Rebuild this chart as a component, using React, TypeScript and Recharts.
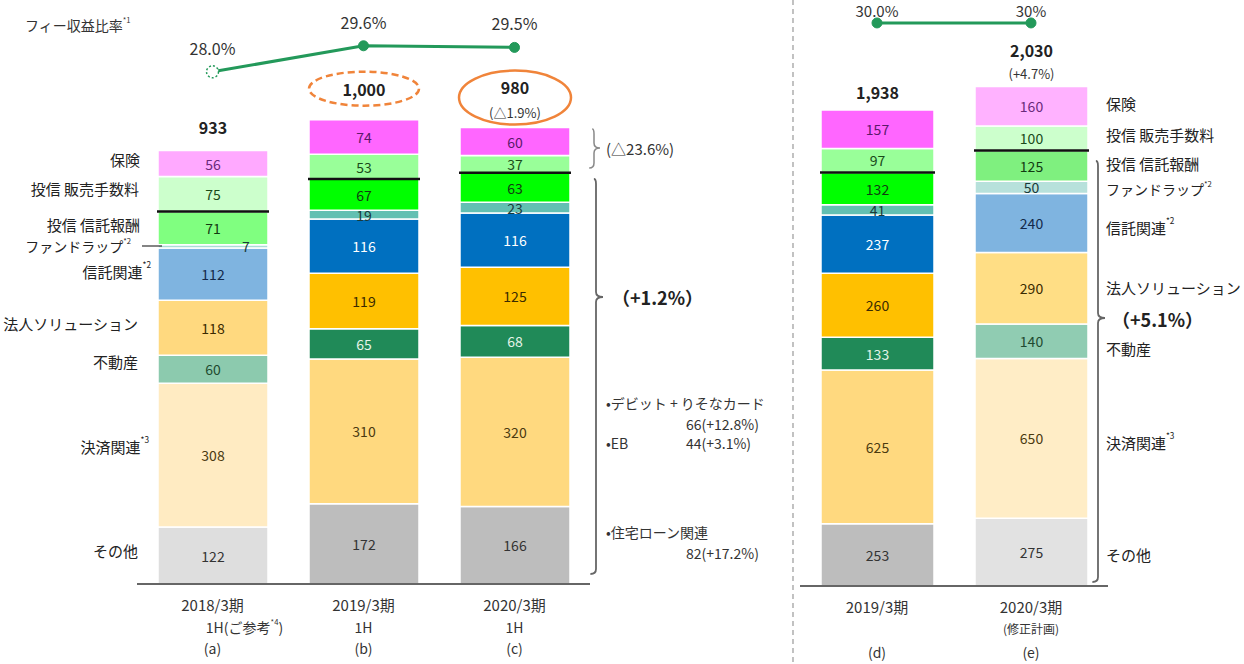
import React from 'react';
import { ComposedChart, Bar, Line, XAxis, YAxis, Cell, LabelList } from 'recharts';

// ---------- DATA ----------
const leftCategories = ['a', 'b', 'c'];
const rightCategories = ['d', 'e'];

// series (stack order bottom -> top)
const seriesKeys = ['sonota', 'kessai', 'fudosan', 'hojin', 'shintaku', 'fw', 'hoshu', 'hanbai', 'hoken'];

const sonotaL = [122, 172, 166];
const kessaiL = [308, 310, 320];
const fudosanL = [60, 65, 68];
const hojinL = [118, 119, 125];
const shintakuL = [112, 116, 116];
const fwL = [7, 19, 23];
const hoshuL = [71, 67, 63];
const hanbaiL = [75, 53, 37];
const hokenL = [56, 74, 60];
const ratioL = [28.0, 29.6, 29.5];
const ratioLabelL = ['28.0%', '29.6%', '29.5%'];
const ratioIsReferenceL = [true, false, false];
const totalsL = ['933', '1,000', '980'];
const totalSubL = ['', '', '(△1.9%)'];

const sonotaR = [253, 275];
const kessaiR = [625, 650];
const fudosanR = [133, 140];
const hojinR = [260, 290];
const shintakuR = [237, 240];
const fwR = [41, 50];
const hoshuR = [132, 125];
const hanbaiR = [97, 100];
const hokenR = [157, 160];
const ratioR = [30.0, 30];
const ratioLabelR = ['30.0%', '30%'];
const ratioIsReferenceR = [false, false];
const totalsR = ['1,938', '2,030'];
const totalSubR = ['', '(+4.7%)'];

const tickLabelsL = [
  ['2018/3期', '1H(ご参考*4)', '(a)'],
  ['2019/3期', '1H', '(b)'],
  ['2020/3期', '1H', '(c)'],
];
const tickLabelsR = [
  ['2019/3期', '(修正計画)', '(d)'],
  ['2020/3期', '(修正計画)', '(e)'],
];
const showTickLine2R = [false, true];

const sideLabelsL = ['保険', '投信 販売手数料', '投信 信託報酬', 'ファンドラップ*2', '信託関連*2', '法人ソリューション', '不動産', '決済関連*3', 'その他'];
const sideLabelsR = ['保険', '投信 販売手数料', '投信 信託報酬', 'ファンドラップ*2', '信託関連*2', '法人ソリューション', '不動産', '決済関連*3', 'その他'];

// ---------- STYLES ----------
const FONT = "'Noto Sans CJK JP', 'Noto Sans', sans-serif";
const GREEN = '#23995A';

type Pal = Record<string, string>;
const darkPal: Pal = {
  sonota: '#BDBDBD', kessai: '#FFD97F', fudosan: '#208A58', hojin: '#FFC000',
  shintaku: '#0070C0', fw: '#62C0B2', hoshu: '#00FF00', hanbai: '#99FF99', hoken: '#FF66FF',
};
const lightPalA: Pal = {
  sonota: '#DEDEDE', kessai: '#FFEBC2', fudosan: '#8CCAAE', hojin: '#FFD97F',
  shintaku: '#7FB4E0', fw: '#A9DDD5', hoshu: '#80FF80', hanbai: '#CCFFCC', hoken: '#FFA9FF',
};
const lightPalE: Pal = {
  sonota: '#E2E2E2', kessai: '#FFEDC6', fudosan: '#90CCB2', hojin: '#FFDE85',
  shintaku: '#7FB4E0', fw: '#B7E1DB', hoshu: '#7FF07F', hanbai: '#CCFFCC', hoken: '#FFB2FF',
};
const darkText: Pal = {
  sonota: '#333', kessai: '#4a3a10', fudosan: '#E4F4E8', hojin: '#3a2a00',
  shintaku: '#FFFFFF', fw: '#1a3a3a', hoshu: '#123a12', hanbai: '#1a4a1a', hoken: '#5A1A6A',
};
const lightText: Pal = {
  sonota: '#333', kessai: '#4a3a10', fudosan: '#1f4a30', hojin: '#3a2a00',
  shintaku: '#13294a', fw: '#1a3a3a', hoshu: '#123a12', hanbai: '#1a4a1a', hoken: '#6A2A7A',
};
const palettesL = [lightPalA, darkPal, darkPal];
const textPalL = [lightText, darkText, darkText];
const palettesR = [darkPal, lightPalE];
const textPalR = [darkText, lightText];

// total label offsets above the stack top (style)
const totalOffL = [23, 31, 41];
const subOffL = [0, 0, 15];
const ellipseL = ['', 'dashed', 'solid'];
const totalOffR = [18, 37];
const subOffR = [0, 13];
const ellipseR = ['', ''];

const buildRows = (cats: string[], cols: Record<string, number[]>, ratio: number[]) =>
  cats.map((c, i) => {
    const r: any = { name: c, ratio: ratio[i] };
    Object.keys(cols).forEach((k) => (r[k] = cols[k][i]));
    return r;
  });

const dataL = buildRows(leftCategories, {
  sonota: sonotaL, kessai: kessaiL, fudosan: fudosanL, hojin: hojinL, shintaku: shintakuL,
  fw: fwL, hoshu: hoshuL, hanbai: hanbaiL, hoken: hokenL,
}, ratioL);
const dataR = buildRows(rightCategories, {
  sonota: sonotaR, kessai: kessaiR, fudosan: fudosanR, hojin: hojinR, shintaku: shintakuR,
  fw: fwR, hoshu: hoshuR, hanbai: hanbaiR, hoken: hokenR,
}, ratioR);

// ---------- HELPERS ----------
function RichText({ x, y, text, size = 15, anchor = 'start', weight = 400, fill = '#222' }: any) {
  const parts = String(text).split(/(\*\d)/);
  return (
    <text x={x} y={y} fontSize={size} textAnchor={anchor} fontWeight={weight} fill={fill}
      fontFamily={FONT} dominantBaseline="central">
      {parts.map((p, i) => {
        if (/^\*\d$/.test(p)) {
          return <tspan key={i} fontSize={size * 0.55} dy={-size * 0.45}>{p}</tspan>;
        }
        const prevSup = i > 0 && /^\*\d$/.test(parts[i - 1]);
        return <tspan key={i} dy={prevSup ? size * 0.45 : 0}>{p}</tspan>;
      })}
    </text>
  );
}

const vbOf = (p: any) => {
  const v = p.viewBox || p;
  return { x: Number(v.x), y: Number(v.y), width: Number(v.width), height: Number(v.height) };
};

const segLabel = (key: string, textPals: Pal[]) => (props: any) => {
  const { x, y, width, height } = vbOf(props);
  const idx = props.index ?? 0;
  const tiny = Math.abs(height) < 5;
  const cx = tiny ? x + width * 0.8 : x + width / 2;
  const cy = y + height / 2;
  return (
    <text x={cx} y={cy} textAnchor="middle" dominantBaseline="central" fontSize={14}
      fontFamily={FONT} fill={(textPals[idx] || darkText)[key]}>
      {props.value}
    </text>
  );
};

// 販売手数料 segment: rect plus the bold black separator on its bottom edge
const hanbaiShape = (props: any) => {
  const { x, y, width, height, fill } = props;
  return (
    <g>
      <rect x={x} y={y} width={width} height={height} fill={fill} stroke="#fff" strokeWidth={1.5} />
      <line x1={x - 1} x2={x + width + 1} y1={y + height} y2={y + height} stroke="#111" strokeWidth={2.5} />
    </g>
  );
};

const totalLabel = (totals: string[], subs: string[], offs: number[], subOffs: number[], ell: string[]) => (props: any) => {
  const { x, y, width } = vbOf(props);
  const i = props.index ?? 0;
  const cx = x + width / 2;
  const my = y - offs[i];
  const sy = y - subOffs[i];
  return (
    <g>
      {ell[i] === 'dashed' && (
        <ellipse cx={cx} cy={my} rx={55} ry={17} fill="none" stroke="#F0843A" strokeWidth={2.5} strokeDasharray="7 4" />
      )}
      {ell[i] === 'solid' && (
        <ellipse cx={cx} cy={(my + sy) / 2 - 2} rx={56} ry={27} fill="none" stroke="#F0843A" strokeWidth={2.5} />
      )}
      <text x={cx} y={my} textAnchor="middle" dominantBaseline="central" fontSize={16} fontWeight={700}
        fontFamily={FONT} fill="#222">{totals[i]}</text>
      {subs[i] && (
        <text x={cx} y={sy} textAnchor="middle" dominantBaseline="central" fontSize={13}
          fontFamily={FONT} fill="#333">{subs[i]}</text>
      )}
    </g>
  );
};

const ratioLabel = (labels: string[], off: number, size: number) => (props: any) => {
  const x = Number(props.x);
  const y = Number(props.y);
  const i = props.index ?? 0;
  return (
    <text x={x} y={y - off} textAnchor="middle" dominantBaseline="central" fontSize={size}
      fontFamily={FONT} fill="#333">{labels[i]}</text>
  );
};

const ratioDot = (refFlags: boolean[]) => (props: any) => {
  const { cx, cy, index } = props;
  if (refFlags[index]) {
    return <circle key={index} cx={cx} cy={cy} r={6} fill="#fff" stroke={GREEN} strokeWidth={1.5} strokeDasharray="2 2" />;
  }
  return <circle key={index} cx={cx} cy={cy} r={5} fill={GREEN} stroke={GREEN} />;
};

const makeTick = (labels: string[][], cats: string[], dys: number[], line2Dx: number[], line2Size: number, show2?: boolean[]) => (props: any) => {
  const { x, y, payload } = props;
  const i = cats.indexOf(payload.value);
  const l = labels[i] || [];
  return (
    <g>
      <RichText x={x} y={y + dys[0]} text={l[0]} size={15} anchor="middle" fill="#333" />
      {(!show2 || show2[i]) && <RichText x={x + (line2Dx[i] || 0)} y={y + dys[1]} text={l[1]} size={line2Size} anchor="middle" fill="#333" />}
      <RichText x={x} y={y + dys[2]} text={l[2]} size={14} anchor="middle" fill="#333" />
    </g>
  );
};

const renderBars = (data: any[], pals: Pal[], textPals: Pal[], barSize: number,
  totals: string[], subs: string[], offs: number[], subOffs: number[], ell: string[]) =>
  seriesKeys.map((k) => (
    <Bar key={k} dataKey={k} stackId="s" yAxisId="bar" barSize={barSize} isAnimationActive={false}
      stroke="#fff" strokeWidth={1.5} shape={k === 'hanbai' ? hanbaiShape : undefined}>
      {data.map((_, i) => <Cell key={i} fill={pals[i][k]} />)}
      <LabelList dataKey={k} content={segLabel(k, textPals)} />
      {k === 'hoken' && <LabelList dataKey={k} content={totalLabel(totals, subs, offs, subOffs, ell)} />}
    </Bar>
  ));

// brace path: vertical brace opening to the left, tip to the right
const bracePath = (x: number, y1: number, y2: number, tipY: number, w: number) => {
  const r = 5;
  return `M ${x - w * 0.3} ${y1} Q ${x} ${y1} ${x} ${y1 + r} L ${x} ${tipY - r} Q ${x} ${tipY} ${x + w} ${tipY} Q ${x} ${tipY} ${x} ${tipY + r} L ${x} ${y2 - r} Q ${x} ${y2} ${x - w * 0.8} ${y2}`;
};

export default function App() {
  return (
    <div style={{ position: 'absolute', left: 0, top: 0, width: 1244, height: 664, background: '#fff', overflow: 'hidden' }}>
      {/* LEFT CHART */}
      <div style={{ position: 'absolute', left: 0, top: 0 }}>
        <ComposedChart width={640} height={664} data={dataL} margin={{ top: 10, right: 50, bottom: 10, left: 137 }}>
          <XAxis dataKey="name" xAxisId={0} height={70} interval={0} tickLine={false}
            axisLine={{ stroke: '#666', strokeWidth: 2 }}
            tick={makeTick(tickLabelsL, leftCategories, [12, 35, 56], [32, 0, 0], 14)} />
          <YAxis yAxisId="bar" hide domain={[0, 1230]} />
          <YAxis yAxisId="line" hide domain={[-3.5, 31.8]} />
          {renderBars(dataL, palettesL, textPalL, 110, totalsL, totalSubL, totalOffL, subOffL, ellipseL)}
          <Line yAxisId="line" dataKey="ratio" stroke={GREEN} strokeWidth={3} isAnimationActive={false}
            dot={ratioDot(ratioIsReferenceL)}>
            <LabelList dataKey="ratio" content={ratioLabel(ratioLabelL, 24, 16)} />
          </Line>
        </ComposedChart>
      </div>

      {/* RIGHT CHART */}
      <div style={{ position: 'absolute', left: 640, top: 0 }}>
        <ComposedChart width={604} height={664} data={dataR} margin={{ top: 10, right: 136, bottom: 10, left: 160 }}>
          <XAxis dataKey="name" height={68} interval={0} tickLine={false}
            axisLine={{ stroke: '#666', strokeWidth: 2 }}
            tick={makeTick(tickLabelsR, rightCategories, [12, 34, 58], [0, 0], 12, showTickLine2R)} />
          <YAxis yAxisId="bar" hide domain={[0, 2341]} />
          <YAxis yAxisId="line" hide domain={[0, 30.69]} />
          {renderBars(dataR, palettesR, textPalR, 113, totalsR, totalSubR, totalOffR, subOffR, ellipseR)}
          <Line yAxisId="line" dataKey="ratio" stroke={GREEN} strokeWidth={3} isAnimationActive={false}
            dot={ratioDot(ratioIsReferenceR)}>
            <LabelList dataKey="ratio" content={ratioLabel(ratioLabelR, 12, 15)} />
          </Line>
        </ComposedChart>
      </div>

      {/* ANNOTATION OVERLAY */}
      <svg width={1244} height={664} style={{ position: 'absolute', left: 0, top: 0, pointerEvents: 'none' }}>
        <line x1={793} x2={793} y1={0} y2={664} stroke="#999" strokeWidth={1.2} strokeDasharray="5 4" />
        <RichText x={25} y={25} text="フィー収益比率*1" size={14} fill="#333" />

        {/* left side labels */}
        <RichText x={140} y={159} text={sideLabelsL[0]} anchor="end" />
        <RichText x={139} y={188} text={sideLabelsL[1]} anchor="end" />
        <RichText x={140} y={224} text={sideLabelsL[2]} anchor="end" />
        <RichText x={131} y={246} text={sideLabelsL[3]} anchor="end" size={14} />
        <line x1={142} x2={162} y1={246} y2={246} stroke="#333" strokeWidth={1.2} />
        <RichText x={151} y={271} text={sideLabelsL[4]} anchor="end" />
        <RichText x={138} y={323} text={sideLabelsL[5]} anchor="end" />
        <RichText x={138} y={361} text={sideLabelsL[6]} anchor="end" />
        <RichText x={149} y={446} text={sideLabelsL[7]} anchor="end" />
        <RichText x={138} y={550} text={sideLabelsL[8]} anchor="end" />

        {/* middle braces */}
        <path d={bracePath(594, 129, 168, 148, 6)} fill="none" stroke="#888" strokeWidth={1.5} />
        <text x={606} y={148} fontSize={15} fontFamily={FONT} fill="#333" dominantBaseline="central">(△23.6%)</text>
        <path d={bracePath(596, 179, 574, 297, 7)} fill="none" stroke="#666" strokeWidth={1.8} />
        <text x={612} y={297} fontSize={18} fontWeight={700} fontFamily={FONT} fill="#222" dominantBaseline="central">（+1.2%）</text>

        <g fontFamily={FONT} fontSize={14} fill="#333">
          <text x={606} y={403} dominantBaseline="central">•デビット + りそなカード</text>
          <text x={686} y={424} dominantBaseline="central">66(+12.8%)</text>
          <text x={606} y={443} dominantBaseline="central">•EB</text>
          <text x={686} y={443} dominantBaseline="central">44(+3.1%)</text>
          <text x={606} y={532} dominantBaseline="central">•住宅ローン関連</text>
          <text x={686} y={553} dominantBaseline="central">82(+17.2%)</text>
        </g>

        {/* right side labels */}
        <RichText x={1106} y={103} text={sideLabelsR[0]} />
        <RichText x={1106} y={134} text={sideLabelsR[1]} />
        <RichText x={1106} y={163} text={sideLabelsR[2]} />
        <RichText x={1106} y={189} text={sideLabelsR[3]} size={14} />
        <RichText x={1106} y={227} text={sideLabelsR[4]} />
        <RichText x={1106} y={287} text={sideLabelsR[5]} />
        <text x={1112} y={319} fontSize={18} fontWeight={700} fontFamily={FONT} fill="#222" dominantBaseline="central">（+5.1%）</text>
        <RichText x={1106} y={348} text={sideLabelsR[6]} />
        <RichText x={1106} y={442} text={sideLabelsR[7]} />
        <RichText x={1106} y={554} text={sideLabelsR[8]} />
        <path d={bracePath(1098, 161, 582, 318, 7)} fill="none" stroke="#666" strokeWidth={1.8} />
      </svg>
    </div>
  );
}
